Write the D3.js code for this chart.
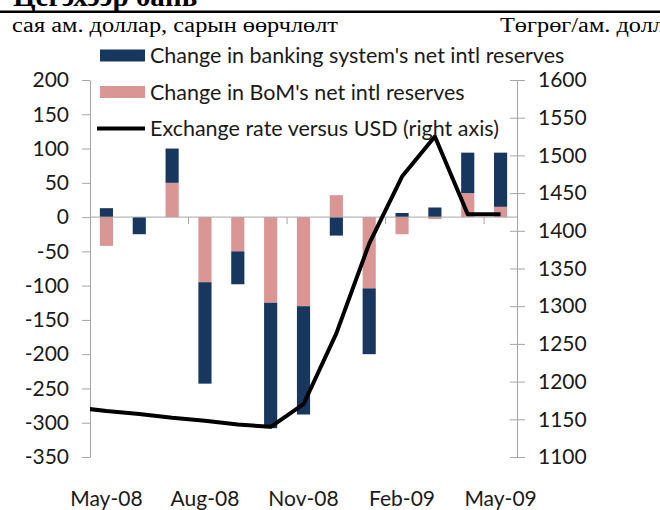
<!DOCTYPE html>
<html>
<head>
<meta charset="utf-8">
<script src="https://cdn.jsdelivr.net/npm/d3@7"></script>
<style>
  body { margin: 0; background: #fff; }
  svg { display: block; }
</style>
</head>
<body>
<div id="chart"></div>
<script>
// Data
var months = ["May-08", "Jun-08", "Jul-08", "Aug-08", "Sep-08", "Oct-08", "Nov-08",
              "Dec-08", "Jan-09", "Feb-09", "Mar-09", "Apr-09", "May-09"];
var monthLabels = ["May-08", "Aug-08", "Nov-08", "Feb-09", "May-09"];
var bomReserves = [-42, 0, 50, -95, -50, -125, -130, 32, -104, -25, -3, 35, 15];
var bankReserves = [13, -25, 50, -148, -48, -183, -158, -27, -96, 6, 14, 59, 79];
var exchangeRate = [1161, 1157, 1152, 1148, 1143, 1140, 1170, 1264, 1383, 1472, 1525, 1422, 1422];
var prevMonth = "Apr-08";
var prevRate = 1166;   // point just left of the plot, clipped
var leftTicks = d3.range(-350, 201, 50);
var rightTicks = d3.range(1100, 1601, 50);

var legendItems = [
    {label: "Change in banking system's net intl reserves", type: "bar", color: "#17375E"},
    {label: "Change in BoM's net intl reserves", type: "bar", color: "#DA9694"},
    {label: "Exchange rate versus USD (right axis)", type: "line", color: "#000"}
];

function DrawChart() {
    var w = 660, h = 510;
    var left = 90, right = 517, top = 80, bottom = 457;
    var sansFont = "Lato, 'Open Sans', sans-serif";
    var serifFont = "'Liberation Serif', 'DejaVu Serif', serif";
    var axisColor = "#a6a6a6";
    var plain = function(d) { return String(d); };

    var svg = d3.select("#chart").append("svg")
        .attr("width", w)
        .attr("height", h);

    // Header (title cut by the top edge, rule, unit captions)
    svg.append("text")
        .attr("x", 13)
        .attr("y", 6)
        .attr("textLength", 184)
        .attr("lengthAdjust", "spacingAndGlyphs")
        .style("font-family", serifFont)
        .style("font-weight", "bold")
        .style("font-size", "30px")
        .text("Цегэхээр бань");
    svg.append("line")
        .attr("x1", 0).attr("x2", w)
        .attr("y1", 11.8).attr("y2", 11.8)
        .attr("stroke", "#000")
        .attr("stroke-width", 2.5);

    // Unit captions are wide in the source, so stretch them the same way
    var capLeft = svg.append("text")
        .attr("x", 12)
        .attr("y", 31.5)
        .style("font-family", serifFont)
        .style("font-size", "20.5px")
        .text("сая ам. доллар, сарын өөрчлөлт");
    var capRight = svg.append("text")
        .attr("x", 500)
        .attr("y", 31.5)
        .style("font-family", serifFont)
        .style("font-size", "20.5px")
        .text("Төгрөг/ам. доллар");
    var stretch = 326 / capLeft.node().getComputedTextLength();
    capLeft.attr("textLength", 326).attr("lengthAdjust", "spacingAndGlyphs");
    capRight.attr("textLength", capRight.node().getComputedTextLength() * stretch)
        .attr("lengthAdjust", "spacingAndGlyphs");

    // Scales
    var x = d3.scaleBand()
        .domain(months)
        .range([left, right])
        .paddingInner(0.6)
        .paddingOuter(0.3);
    var yL = d3.scaleLinear().domain([-350, 200]).range([bottom, top]);
    var yR = d3.scaleLinear().domain([1100, 1600]).range([bottom, top]);

    // Stacked bars (BoM at the base, banking system on top)
    var rows = months.map(function(m, i) {
        return {month: m, bom: bomReserves[i], bank: bankReserves[i]};
    });
    var series = d3.stack()
        .keys(["bom", "bank"])
        .offset(d3.stackOffsetDiverging)(rows);
    var colors = {bom: "#DA9694", bank: "#17375E"};

    svg.append("g").selectAll("g")
        .data(series)
        .enter().append("g")
        .attr("fill", function(d) { return colors[d.key]; })
        .selectAll("rect")
        .data(function(d) { return d; })
        .enter().append("rect")
        .attr("x", function(d) { return x(d.data.month); })
        .attr("y", function(d) { return yL(Math.max(d[0], d[1])); })
        .attr("width", x.bandwidth())
        .attr("height", function(d) { return Math.abs(yL(d[0]) - yL(d[1])); });

    // Left axis
    var gl = svg.append("g")
        .attr("transform", "translate(" + left + ",0)")
        .call(d3.axisLeft(yL).tickValues(leftTicks).tickFormat(plain)
              .tickSize(8).tickSizeOuter(0).tickPadding(13));
    // Right axis, ticks cross the line
    var gr = svg.append("g")
        .attr("transform", "translate(" + right + ",0)")
        .call(d3.axisRight(yR).tickValues(rightTicks).tickFormat(plain)
              .tickSize(8).tickSizeOuter(0).tickPadding(13));
    gr.selectAll(".tick line").attr("x1", -7);

    [gl, gr].forEach(function(g) {
        g.select(".domain").attr("stroke", axisColor);
        g.selectAll(".tick line").attr("stroke", axisColor);
        g.selectAll("text")
            .attr("fill", "#1a1a1a")
            .style("font-family", sansFont)
            .style("font-size", "21px");
    });

    // Category axis on the zero line
    svg.append("line")
        .attr("x1", left).attr("x2", right)
        .attr("y1", yL(0)).attr("y2", yL(0))
        .attr("stroke", axisColor);
    var step = x.step();
    var boundaries = [2, 5, 8, 11].map(function(i) {
        return x(months[i]) + x.bandwidth() + (step - x.bandwidth()) / 2;
    });
    svg.append("g").selectAll("line")
        .data(boundaries)
        .enter().append("line")
        .attr("x1", function(d) { return d; })
        .attr("x2", function(d) { return d; })
        .attr("y1", yL(0))
        .attr("y2", yL(0) + 7)
        .attr("stroke", axisColor);

    var gx = svg.append("g")
        .attr("transform", "translate(0," + bottom + ")")
        .call(d3.axisBottom(x).tickValues(monthLabels).tickSize(0).tickPadding(34));
    gx.select(".domain").remove();
    gx.selectAll("text")
        .attr("fill", "#1a1a1a")
        .style("font-family", sansFont)
        .style("font-size", "21px");

    // Exchange rate line (right axis), clipped to plot area
    svg.append("clipPath")
        .attr("id", "plotclip")
        .append("rect")
        .attr("x", left).attr("y", 0)
        .attr("width", right - left).attr("height", h);
    var pts = [{x: x(months[0]) - step + x.bandwidth() / 2, v: prevRate}];
    months.forEach(function(m, i) {
        pts.push({x: x(m) + x.bandwidth() / 2, v: exchangeRate[i]});
    });
    svg.append("path")
        .datum(pts)
        .attr("clip-path", "url(#plotclip)")
        .attr("fill", "none")
        .attr("stroke", "#000")
        .attr("stroke-width", 4)
        .attr("stroke-linejoin", "round")
        .attr("d", d3.line()
              .x(function(d) { return d.x; })
              .y(function(d) { return yR(d.v); }));

    // Legend
    var legend = svg.append("g").selectAll("g")
        .data(legendItems)
        .enter().append("g")
        .attr("transform", function(d, i) { return "translate(0," + (55.5 + i * 36.5) + ")"; });
    legend.filter(function(d) { return d.type == "bar"; })
        .append("rect")
        .attr("x", 100).attr("y", -6)
        .attr("width", 45).attr("height", 12)
        .attr("fill", function(d) { return d.color; });
    legend.filter(function(d) { return d.type == "line"; })
        .append("line")
        .attr("x1", 97).attr("x2", 145)
        .attr("y1", 0).attr("y2", 0)
        .attr("stroke", function(d) { return d.color; })
        .attr("stroke-width", 4);
    legend.append("text")
        .attr("x", 150)
        .attr("y", 0)
        .attr("dy", "0.35em")
        .attr("fill", "#1a1a1a")
        .style("font-family", sansFont)
        .style("font-size", "21.5px")
        .text(function(d) { return d.label; });
}

DrawChart();
</script>
</body>
</html>
